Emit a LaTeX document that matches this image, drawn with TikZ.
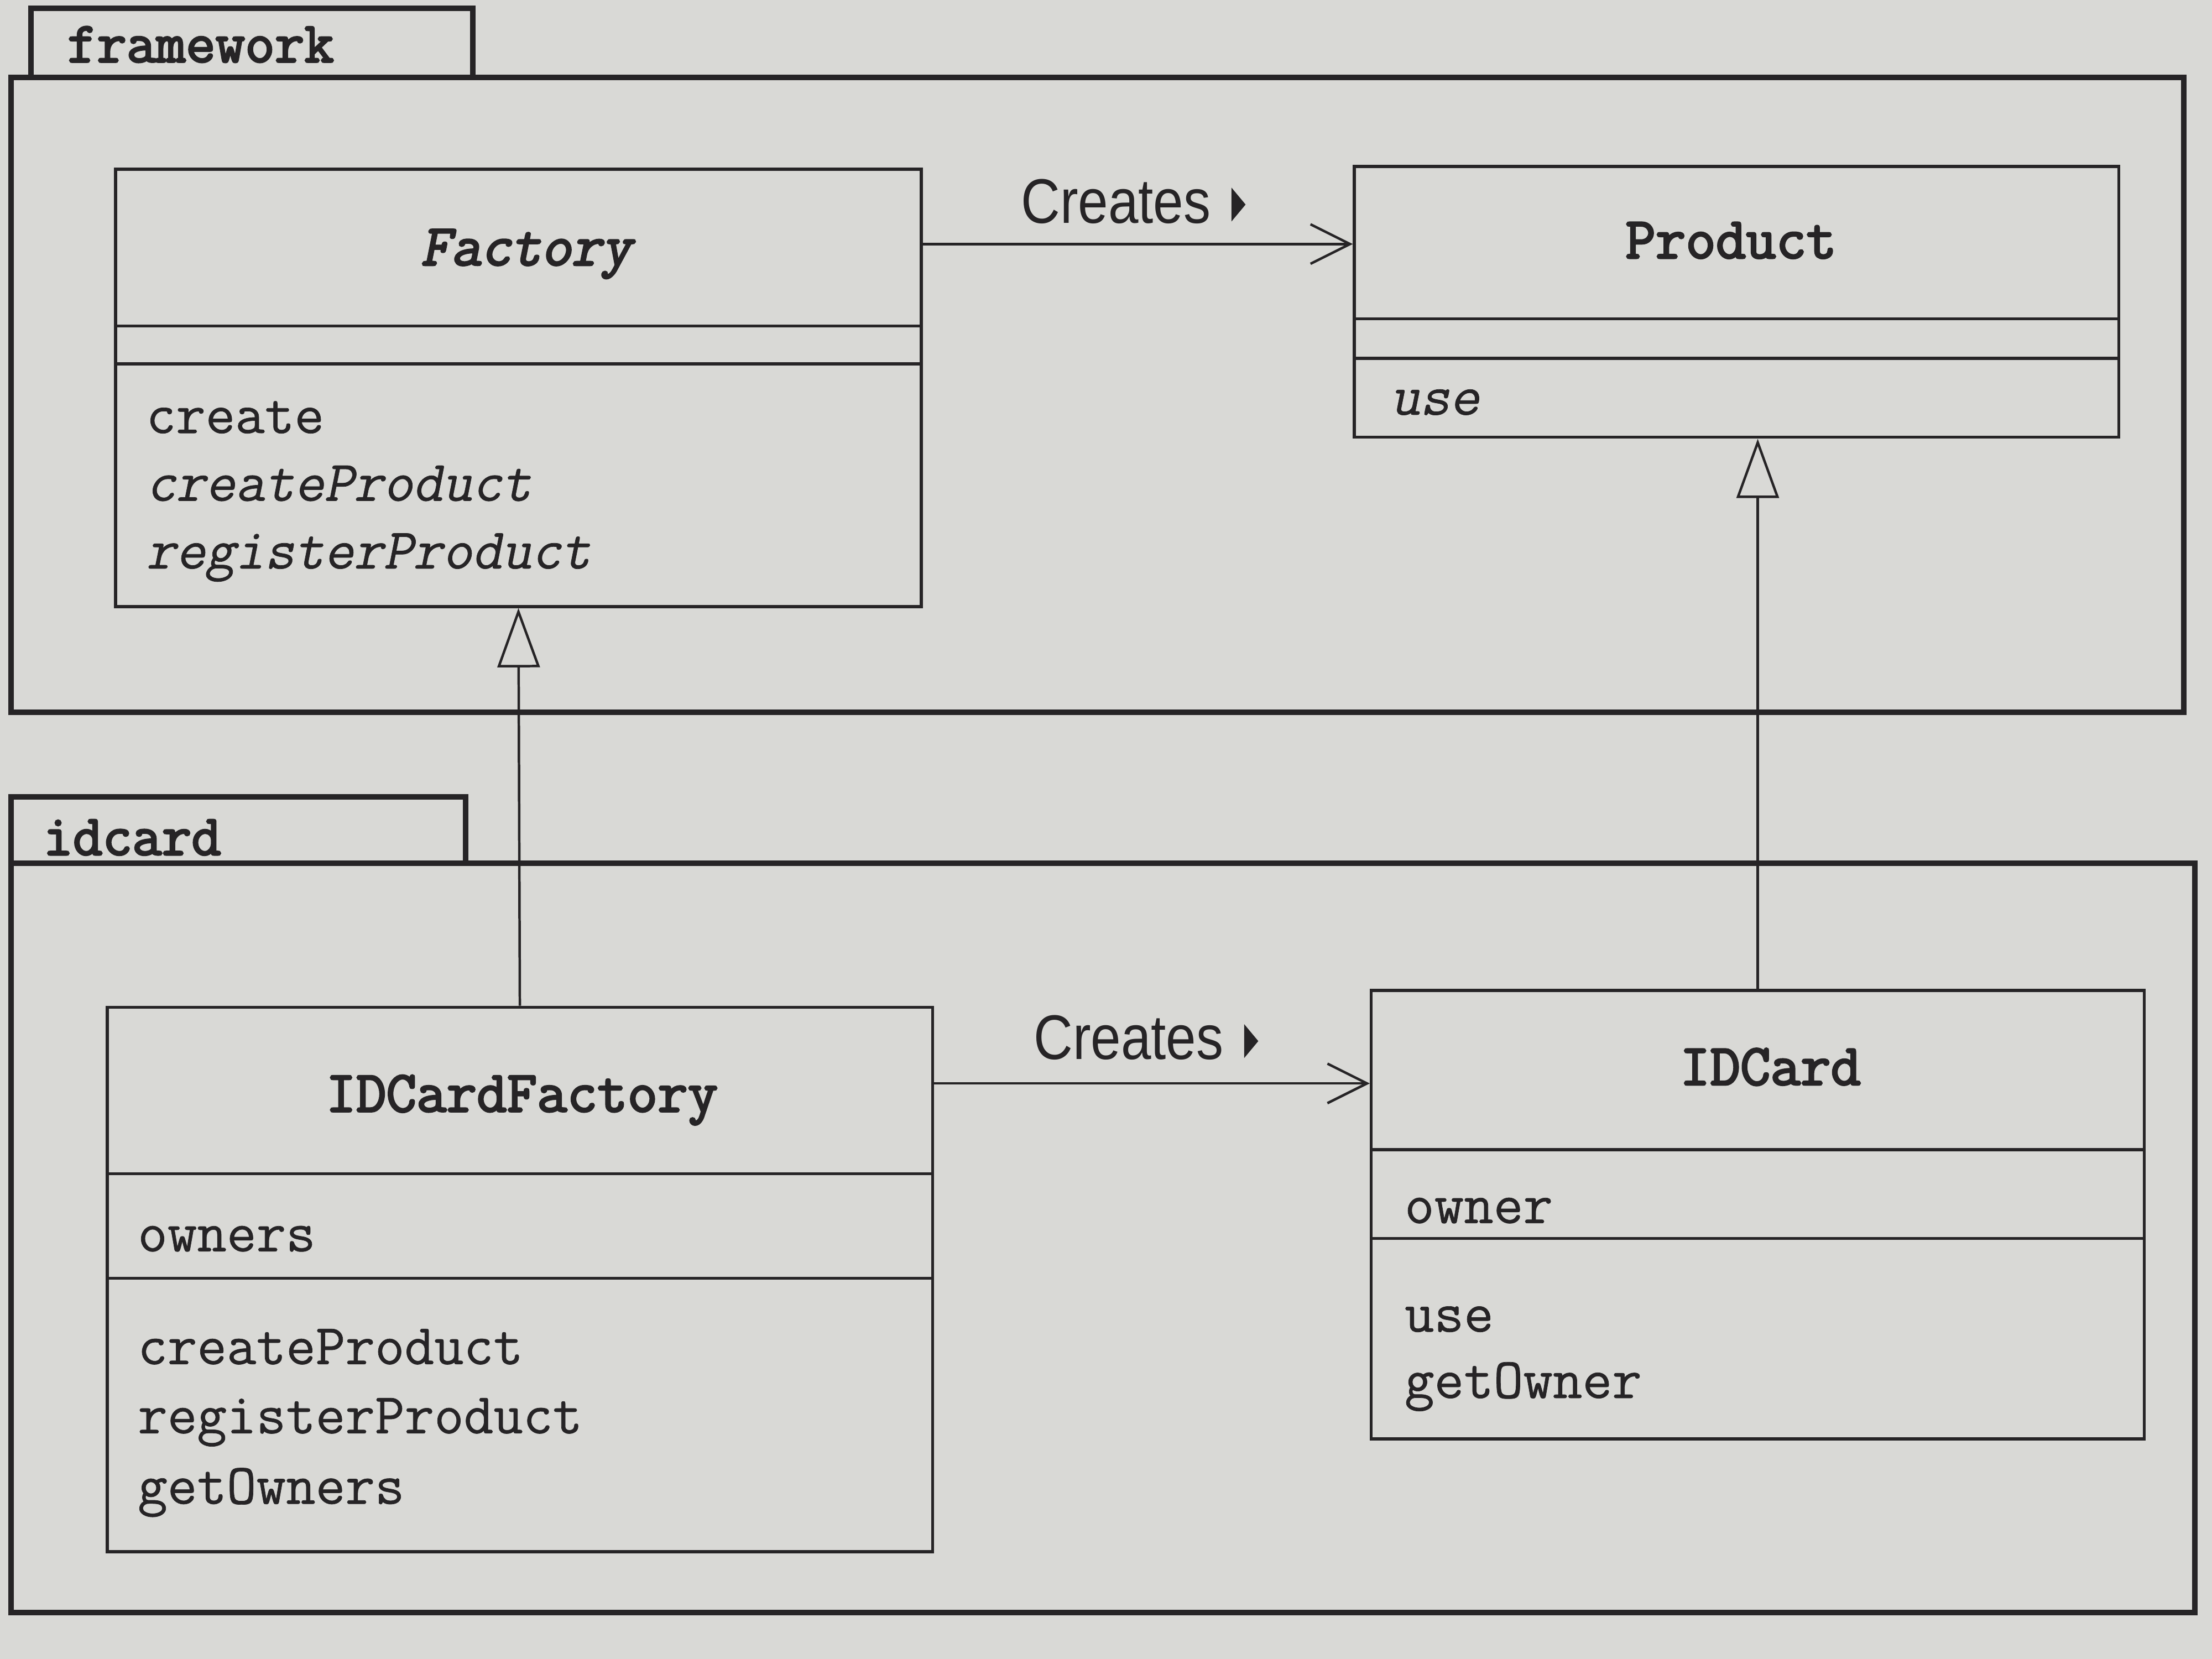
\documentclass[tikz,border=0pt]{standalone}
\usepackage{fontspec}
\newfontfamily\labfont[FakeStretch=0.86]{Liberation Sans}
\newfontfamily\mreg[FakeBold=0.7]{Latin Modern Mono}
\newfontfamily\mslant[FakeBold=0.7,FakeSlant=0.2]{Latin Modern Mono}
\newfontfamily\mbold[FakeBold=3.2]{Latin Modern Mono}
\newfontfamily\mboldslant[FakeBold=3.2,FakeSlant=0.2]{Latin Modern Mono}
\usetikzlibrary{arrows.meta,fit,calc}
\definecolor{paper}{HTML}{D9D9D6}
\definecolor{ink}{HTML}{262426}
\begin{document}
\begin{tikzpicture}[x=0.01cm,y=-0.01cm,
  pkg/.style={draw=ink,line width=1.1pt},
  cls/.style={draw=ink,line width=0.6pt,inner sep=0pt,rectangle},
  sep/.style={draw=ink,line width=0.6pt},
  mtext/.style={anchor=base west,inner sep=0pt,text=ink,font=\mreg\fontsize{11.6}{14}\selectfont},
  itext/.style={anchor=base west,inner sep=0pt,text=ink,font=\mslant\fontsize{11.6}{14}\selectfont},
  ntext/.style={anchor=base,inner sep=0pt,text=ink,font=\mbold\fontsize{11.8}{14}\selectfont},
  ptext/.style={anchor=base west,inner sep=0pt,text=ink,font=\mbold\fontsize{11.6}{14}\selectfont},
  clab/.style={anchor=base,inner sep=0pt,text=ink,font=\labfont\fontsize{12.7}{14}\selectfont},
  assoc/.style={draw=ink,line width=0.5pt,-{Straight Barb[length=0.28cm,width=0.28cm,line width=0.5pt]}},
  gen/.style={draw=ink,line width=0.5pt,-{Triangle[open,length=0.42cm,width=0.3cm,fill=paper,line width=0.5pt]}}]
\fill[paper] (0,0) rectangle (1568,1176);
\useasboundingbox (0,0) rectangle (1568,1176);

% framework package
\draw[pkg] (22,55) -- (22,6) -- (335,6) -- (335,55);
\draw[pkg] (8,55) rectangle (1548,505);
\node[ptext] (fwlab) at (47,44) {framework};

% idcard package
\draw[pkg] (8,612) -- (8,565) -- (330,565) -- (330,612);
\draw[pkg] (8,612) rectangle (1556,1143);
\node[ptext] (idlab) at (30,606) {idcard};

% Factory
\node[cls,fit={(82,120)(653,430)}] (factory) {};
\draw[sep] (factory.west |- 0,231) -- (factory.east |- 0,231);
\draw[sep] (factory.west |- 0,258) -- (factory.east |- 0,258);
\node[ntext,font=\mboldslant\fontsize{11.8}{14}\selectfont] (fname) at (373,188) {Factory};
\node[mtext] (f1) at (103,307) {create};
\node[itext] (f2) at (103,355) {createProduct};
\node[itext] (f3) at (103,403) {registerProduct};

% Product
\node[cls,fit={(960,118)(1502,310)}] (product) {};
\draw[sep] (product.west |- 0,226) -- (product.east |- 0,226);
\draw[sep] (product.west |- 0,254) -- (product.east |- 0,254);
\node[ntext] (pname) at (1227,183) {Product};
\node[itext] (p1) at (985,294) {use};

% IDCardFactory
\node[cls,fit={(76,714)(661,1100)}] (idfactory) {};
\draw[sep] (idfactory.west |- 0,832) -- (idfactory.east |- 0,832);
\draw[sep] (idfactory.west |- 0,906) -- (idfactory.east |- 0,906);
\node[ntext] (ifname) at (370,788) {IDCardFactory};
\node[mtext] (i0) at (97,887) {owners};
\node[mtext] (i1) at (97,967) {createProduct};
\node[mtext] (i2) at (97,1016) {registerProduct};
\node[mtext] (i3) at (97,1066) {getOwners};

% IDCard
\node[cls,fit={(972,702)(1520,1020)}] (idcard) {};
\draw[sep] (idcard.west |- 0,815) -- (idcard.east |- 0,815);
\draw[sep] (idcard.west |- 0,878) -- (idcard.east |- 0,878);
\node[ntext] (icname) at (1255,769) {IDCard};
\node[mtext] (c0) at (995,867) {owner};
\node[mtext] (c1) at (995,944) {use};
\node[mtext] (c2) at (995,991) {getOwner};

% Creates associations
\draw[assoc] (factory.east |- 0,173) -- (product.west |- 0,173);
\node[clab] (cr1) at (791,158) {Creates};
\fill[ink] ($(cr1.base east)+(14,-1)$) -- ++(0,-24) -- ++(10,12) -- cycle;

\draw[assoc] (idfactory.east |- 0,768) -- (idcard.west |- 0,768);
\node[clab] (cr2) at (800,751) {Creates};
\fill[ink] ($(cr2.base east)+(14,-1)$) -- ++(0,-24) -- ++(10,12) -- cycle;

% generalizations
\draw[gen] (idfactory.north) -- (factory.south);
\draw[gen] (idcard.north) -- (product.south -| idcard.north);
\end{tikzpicture}
\end{document}
